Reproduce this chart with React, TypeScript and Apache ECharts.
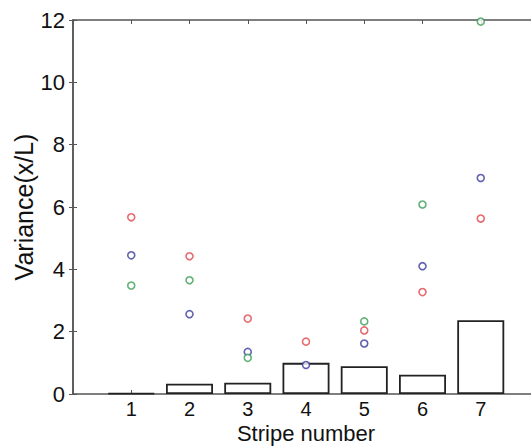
import React, { useEffect, useRef } from "react";
import * as echarts from "echarts";

const stripes = [1, 2, 3, 4, 5, 6, 7];
const barValues = [0.03, 0.33, 0.36, 1.0, 0.89, 0.62, 2.37];
const redValues = [5.67, 4.42, 2.42, 1.68, 2.04, 3.27, 5.63];
const blueValues = [4.45, 2.56, 1.35, 0.93, 1.62, 4.1, 6.93];
const greenValues: (number | null)[] = [3.48, 3.65, 1.16, null, 2.33, 6.08, 11.95];
const yTicks = [0, 2, 4, 6, 8, 10, 12];

const pairs = (vals: (number | null)[]) =>
  stripes.map((s, i) => (vals[i] == null ? [s, null] : [s, vals[i]]));

export default function App() {
  const ref = useRef<HTMLDivElement>(null);
  useEffect(() => {
    if (!ref.current) return;
    const chart = echarts.init(ref.current, null, { renderer: "svg" });
    const axisColor = "#555";
    const font = "Liberation Sans, Arial, sans-serif";
    const scatter = (name: string, vals: (number | null)[], color: string) => ({
      type: "scatter",
      name,
      data: pairs(vals),
      symbol: "circle",
      symbolSize: 7,
      clip: false,
      z: 5,
      itemStyle: { color: "#fff", borderColor: color, borderWidth: 1.6 },
    });
    chart.setOption({
      animation: false,
      backgroundColor: "#fff",
      grid: { left: 73, top: 20, bottom: 52, right: -8, containLabel: false, outerBoundsMode: "none" },
      xAxis: [
        {
          type: "value",
          min: 0,
          max: 8,
          interval: 1,
          position: "bottom",
          name: "Stripe number",
          nameLocation: "middle",
          nameGap: 28,
          nameMoveOverlap: false,
          nameTextStyle: { fontSize: 22, lineHeight: 22, color: "#111", fontFamily: font },
          axisLine: { show: true, onZero: false, lineStyle: { color: axisColor, width: 1.5 } },
          axisTick: { show: true, inside: true, length: 4, lineStyle: { color: axisColor } },
          axisLabel: {
            fontSize: 20,
            lineHeight: 20,
            color: "#111",
            fontFamily: font,
            margin: 5,
            formatter: (v: number) => (stripes.includes(v) ? String(v) : ""),
          },
          splitLine: { show: false },
        },
        {
          type: "value",
          min: 0,
          max: 8,
          interval: 1,
          position: "top",
          axisLine: { show: true, onZero: false, lineStyle: { color: axisColor, width: 1.5 } },
          axisTick: { show: true, inside: true, length: 4, lineStyle: { color: axisColor } },
          axisLabel: { show: false },
          splitLine: { show: false },
        },
      ],
      yAxis: [
        {
          type: "value",
          min: yTicks[0],
          max: yTicks[yTicks.length - 1],
          interval: 2,
          name: "Variance(x/L)",
          nameLocation: "middle",
          nameGap: 37,
          nameMoveOverlap: false,
          nameTextStyle: { fontSize: 25, color: "#111", fontFamily: font },
          axisLine: { show: true, lineStyle: { color: axisColor, width: 1.5 } },
          axisTick: { show: true, inside: true, length: 4, lineStyle: { color: axisColor } },
          axisLabel: { fontSize: 22, color: "#111", fontFamily: font, margin: 8 },
          splitLine: { show: false },
        },
        {
          type: "value",
          min: yTicks[0],
          max: yTicks[yTicks.length - 1],
          interval: 2,
          position: "right",
          axisLine: { show: true, lineStyle: { color: axisColor, width: 1.5 } },
          axisTick: { show: true, inside: true, length: 4, lineStyle: { color: axisColor } },
          axisLabel: { show: false },
          splitLine: { show: false },
        },
      ],
      series: [
        {
          type: "bar",
          data: stripes.map((s, i) => [s, barValues[i]]),
          barWidth: 47,
          itemStyle: { color: "#fff", borderColor: "#222", borderWidth: 1.8 },
          z: 2,
        },
        scatter("red", redValues, "#e0474c"),
        scatter("blue", blueValues, "#3b3b9c"),
        scatter("green", greenValues, "#3d9e55"),
      ],
    });
    return () => chart.dispose();
  }, []);
  return <div ref={ref} style={{ width: 531, height: 446, position: "absolute", left: 0, top: 0 }} />;
}
